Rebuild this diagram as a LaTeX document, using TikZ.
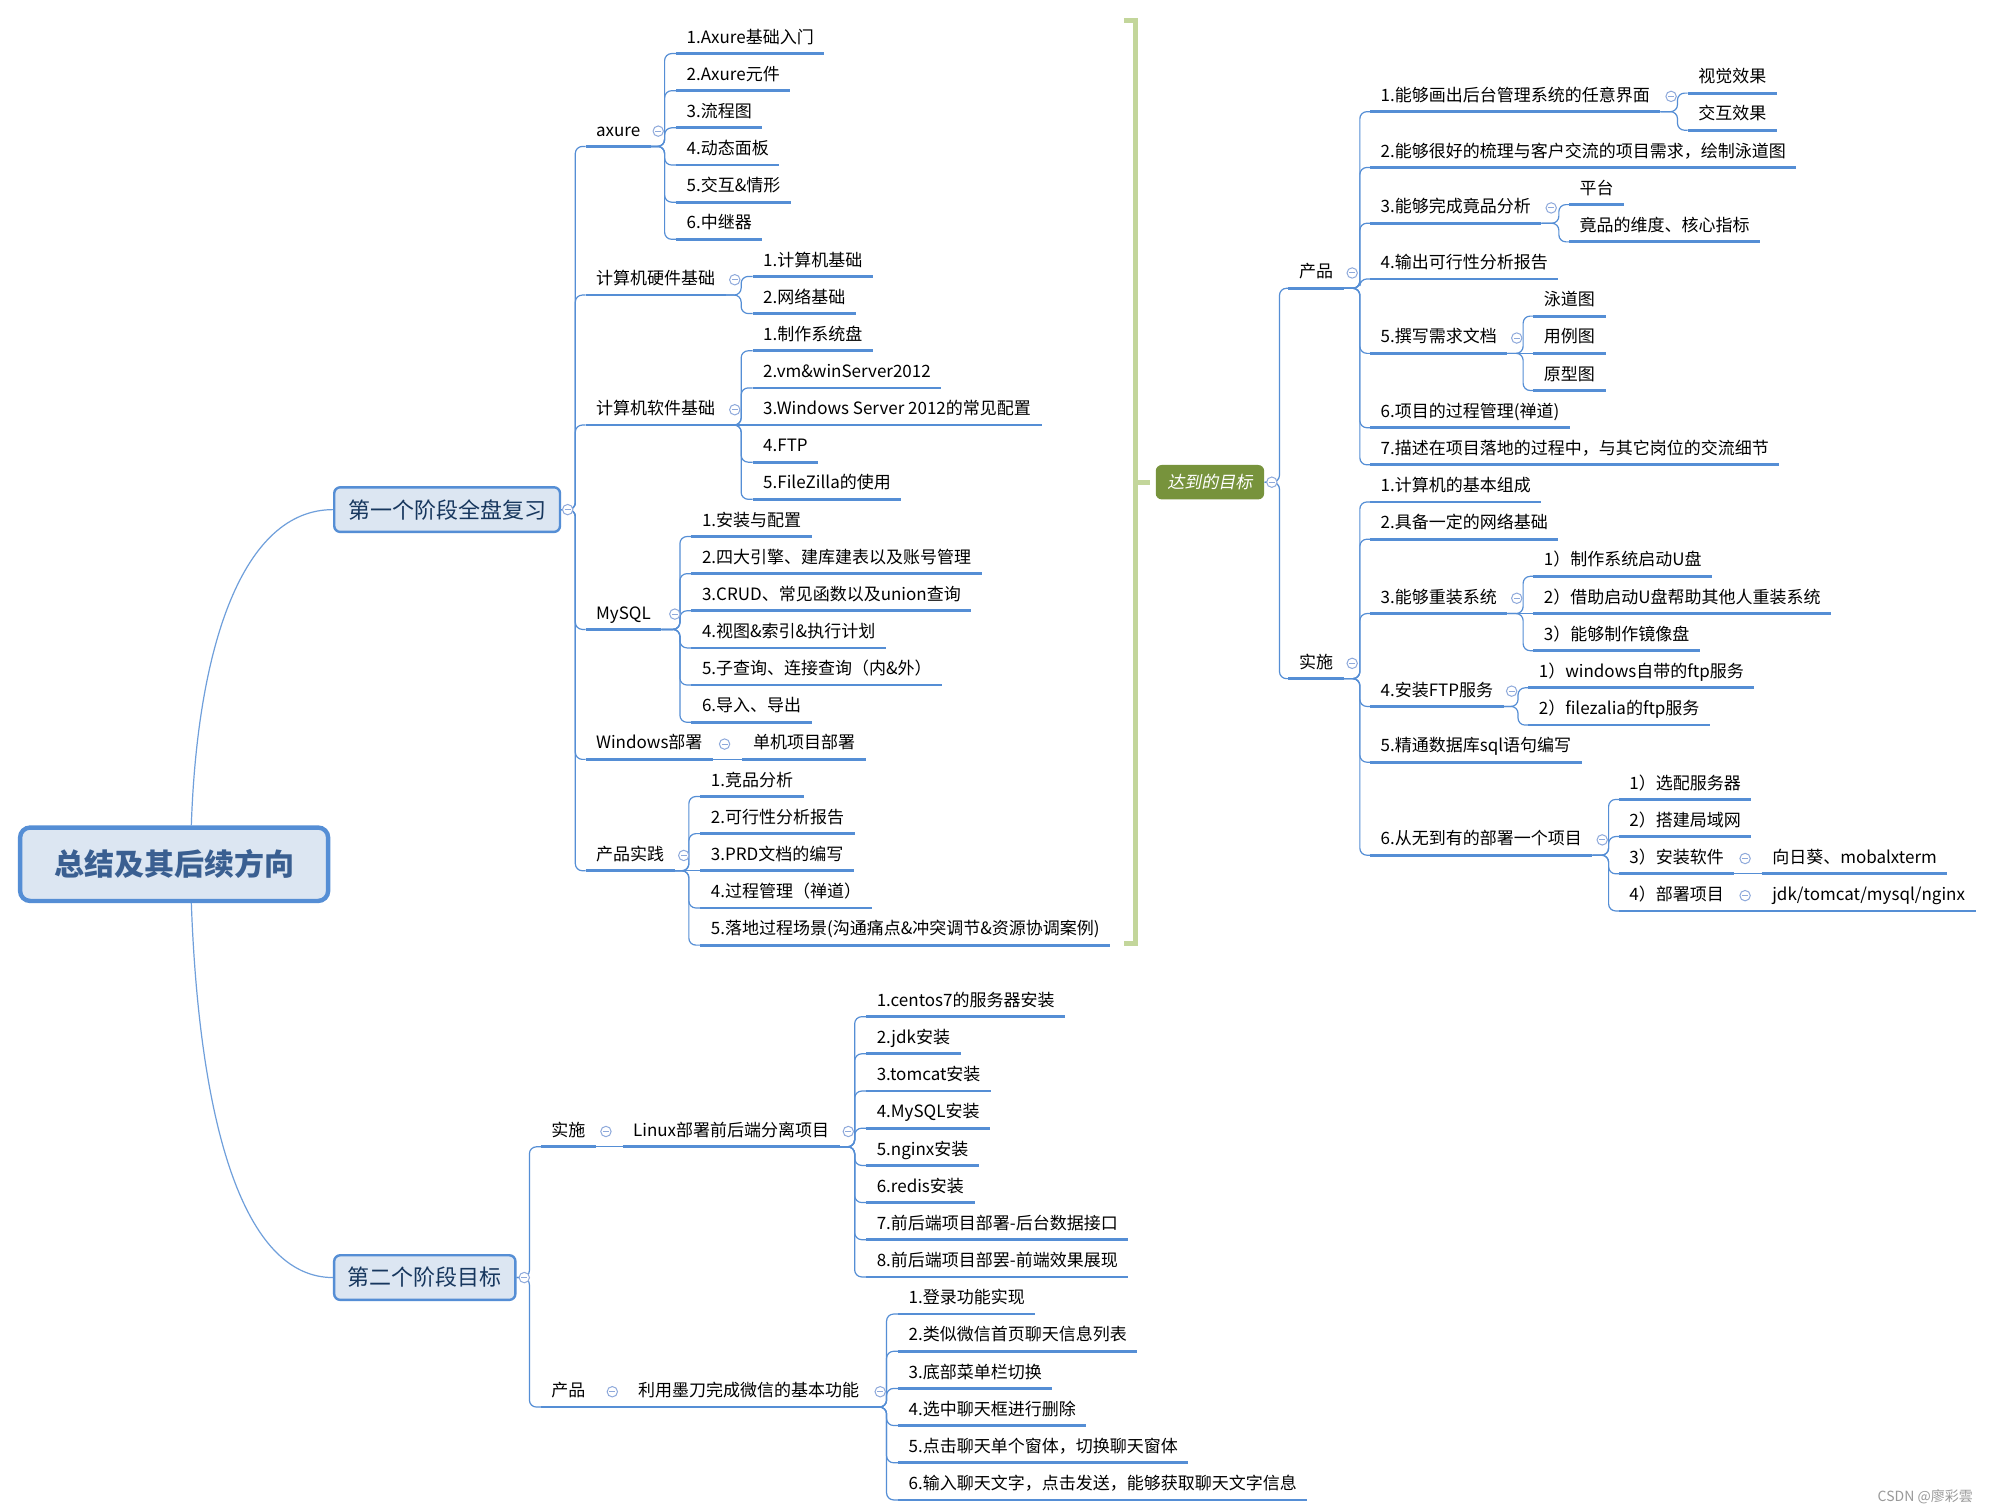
\documentclass[tikz,border=0pt]{standalone}
\usepackage{fontspec}
\setmainfont{Noto Sans CJK SC}
\newfontfamily\slantfont{Noto Sans CJK SC}[FakeSlant=0.2]
\definecolor{lineblue}{HTML}{558ED5}
\definecolor{boxfill}{HTML}{DCE6F2}
\definecolor{navy}{HTML}{17375E}
\definecolor{roottext}{HTML}{3A5F91}
\definecolor{olive}{HTML}{77933C}
\definecolor{bracketgreen}{HTML}{C3D69B}
\definecolor{circlecol}{HTML}{8EA9DB}
\definecolor{curvecol}{HTML}{6F9FDB}
\newcommand\lf[4]{\node[leaf] (#1) at ({#2-8},{#3+12}) {#4};}
\newcommand\cc[3]{\draw[conn] (#1.south east) -- (#1.south east -| #2,0) -- (#3.south west -| #2,0) -- (#3.south west);}
\newcommand\cb[3]{\draw[conn] (#1.east) -- (#1.east -| #2,0) -- (#3.south west -| #2,0) -- (#3.south west);}
\newcommand\cs[2]{\draw[conn] (#1.south east) -- (#2.south west);}
\newcommand\btn[3]{\node[cbtn] (#1) at (#2,#3) {};}
\begin{document}
\begin{tikzpicture}[x=0.6378pt,y=-0.6378pt,
  uline/.style={draw=lineblue,line width=1.4pt},
  leaf/.style={anchor=south west,inner xsep=5.1pt,inner ysep=3.4pt,text height=7pt,text depth=1.6pt,
    font=\fontsize{8.5}{10}\selectfont,text=black,
    append after command={(\tikzlastnode.south west) edge[uline] (\tikzlastnode.south east)}},
  conn/.style={draw=lineblue,line width=0.6pt,rounded corners=3.5pt},
  cbtn/.style={circle,draw=circlecol,fill=white,line width=0.5pt,minimum size=5.2pt,inner sep=0pt,
    path picture={\draw[circlecol,line width=0.5pt] ([xshift=-1.5pt]path picture bounding box.center) -- ([xshift=1.5pt]path picture bounding box.center);}},
  lvlbox/.style={rectangle,rounded corners=3pt,draw=lineblue,line width=1.2pt,fill=boxfill,
    font=\fontsize{11}{13}\selectfont,text=navy,minimum height=22.3pt,inner sep=0pt},
  rootbox/.style={rectangle,rounded corners=5pt,draw=lineblue,line width=2.2pt,fill=boxfill,
    font=\fontsize{15}{18}\selectfont\bfseries,text=roottext,minimum width=154pt,minimum height=36.7pt,inner sep=0pt},
  goalbox/.style={rectangle,rounded corners=3pt,fill=olive,text=white,font=\fontsize{8.5}{10}\selectfont\slantfont,
    minimum width=54.2pt,minimum height=17.2pt,inner sep=0pt},
  rootcurve/.style={draw=curvecol,line width=0.6pt},
  bracket/.style={draw=bracketgreen,line width=2.5pt},
]
\fill[white] (0,0) rectangle (1560,1184.5);
\useasboundingbox (0,0) rectangle (1560,1184.5);

% main boxes
\node[rootbox] (root) at (136.5,677.5) {总结及其后续方向};
\node[lvlbox,minimum width=112.9pt] (s1) at (350.5,399.5) {第一个阶段全盘复习};
\node[lvlbox,minimum width=90.6pt] (s2) at (333,1001.5) {第二个阶段目标};
\node[goalbox] (goal) at (948.5,378) {达到的目标};

\draw[rootcurve] ([xshift=8.6pt]root.north) .. controls +(3pt,90pt) and +(-45pt,0pt) .. (s1.west);
\draw[rootcurve] ([xshift=8.6pt]root.south) .. controls +(4pt,-110pt) and +(-45pt,0pt) .. (s2.west);

% summary bracket
\draw[bracket] (881,16) -- (890,16) -- (890,740) -- (881,740);
\draw[bracket] (890,378) -- ([xshift=-2.5pt]goal.west);

% ---------- stage 1 ----------
\lf{axure}{467}{102.8}{axure}
\lf{hw}{467}{219.3}{计算机硬件基础}
\lf{sw}{467}{321.2}{计算机软件基础}
\lf{mysql}{467}{481.4}{MySQL}
\lf{win}{467}{583.3}{Windows部署}
\lf{pp}{467}{670.6}{产品实践}

\lf{a1}{538}{30.0}{1.Axure基础入门}
\lf{a2}{538}{59.1}{2.Axure元件}
\lf{a3}{538}{88.2}{3.流程图}
\lf{a4}{538}{117.4}{4.动态面板}
\lf{a5}{538}{146.5}{5.交互\&情形}
\lf{a6}{538}{175.6}{6.中继器}
\lf{h1}{598}{204.7}{1.计算机基础}
\lf{h2}{598}{233.8}{2.网络基础}
\lf{w1}{598}{263.0}{1.制作系统盘}
\lf{w2}{598}{292.1}{2.vm\&winServer2012}
\lf{w3}{598}{321.2}{3.Windows Server 2012的常见配置}
\lf{w4}{598}{350.3}{4.FTP}
\lf{w5}{598}{379.4}{5.FileZilla的使用}
\lf{m1}{550}{408.6}{1.安装与配置}
\lf{m2}{550}{437.7}{2.四大引擎、建库建表以及账号管理}
\lf{m3}{550}{466.8}{3.CRUD、常见函数以及union查询}
\lf{m4}{550}{495.9}{4.视图\&索引\&执行计划}
\lf{m5}{550}{525.0}{5.子查询、连接查询（内\&外）}
\lf{m6}{550}{554.2}{6.导入、导出}
\lf{wd}{590}{583.3}{单机项目部署}
\lf{p1}{557}{612.4}{1.竞品分析}
\lf{p2}{557}{641.5}{2.可行性分析报告}
\lf{p3}{557}{670.6}{3.PRD文档的编写}
\lf{p4}{557}{699.8}{4.过程管理（禅道）}
\lf{p5}{557}{728.9}{5.落地过程场景(沟通痛点\&冲突调节\&资源协调案例)}

\foreach \c in {axure,hw,sw,mysql,win,pp} {\cb{s1}{451}{\c}}
\foreach \c in {a1,a2,a3,a4,a5,a6} {\cc{axure}{521}{\c}}
\foreach \c in {h1,h2} {\cc{hw}{581}{\c}}
\foreach \c in {w1,w2,w4,w5} {\cc{sw}{581}{\c}}
\cs{sw}{w3}
\foreach \c in {m1,m2,m3,m4,m5,m6} {\cc{mysql}{533}{\c}}
\cs{win}{wd}
\foreach \c in {p1,p2,p4,p5} {\cc{pp}{540}{\c}}
\cs{pp}{p3}

% ---------- stage 2 ----------
\lf{ss}{432}{887}{实施}
\lf{sp}{432}{1091}{产品}
\lf{lx}{496}{887}{Linux部署前后端分离项目}
\lf{md}{500}{1091}{利用墨刀完成微信的基本功能}
\lf{l1}{687}{785.0}{1.centos7的服务器安装}
\lf{l2}{687}{814.1}{2.jdk安装}
\lf{l3}{687}{843.3}{3.tomcat安装}
\lf{l4}{687}{872.4}{4.MySQL安装}
\lf{l5}{687}{901.6}{5.nginx安装}
\lf{l6}{687}{930.7}{6.redis安装}
\lf{l7}{687}{959.8}{7.前后端项目部署-后台数据接口}
\lf{l8}{687}{989.0}{8.前后端项目部罢-前端效果展现}
\lf{q1}{712}{1018.1}{1.登录功能实现}
\lf{q2}{712}{1047.3}{2.类似微信首页聊天信息列表}
\lf{q3}{712}{1076.4}{3.底部菜单栏切换}
\lf{q4}{712}{1105.5}{4.选中聊天框进行删除}
\lf{q5}{712}{1134.7}{5.点击聊天单个窗体，切换聊天窗体}
\lf{q6}{712}{1163.8}{6.输入聊天文字，点击发送，能够获取聊天文字信息}

\cb{s2}{415}{ss}
\cb{s2}{415}{sp}
\cs{ss}{lx}
\cs{sp}{md}
\foreach \c in {l1,l2,l3,l4,l5,l6,l7,l8} {\cc{lx}{670}{\c}}
\foreach \c in {q1,q2,q3,q4,q5,q6} {\cc{md}{695}{\c}}

% ---------- goals ----------
\lf{gp}{1018}{214}{产品}
\lf{gi}{1018}{520}{实施}
\lf{g1}{1082}{75.55}{1.能够画出后台管理系统的任意界面}
\lf{g2}{1082}{119.3}{2.能够很好的梳理与客户交流的项目需求，绘制泳道图}
\lf{g3}{1082}{163}{3.能够完成竟品分析}
\lf{g4}{1082}{206.7}{4.输出可行性分析报告}
\lf{g5}{1082}{265}{5.撰写需求文档}
\lf{g6}{1082}{323.3}{6.项目的过程管理(禅道)}
\lf{g7}{1082}{352.4}{7.描述在项目落地的过程中，与其它岗位的交流细节}
\lf{g1a}{1331}{61}{视觉效果}
\lf{g1b}{1331}{90.1}{交互效果}
\lf{g3a}{1238}{148.4}{平台}
\lf{g3b}{1238}{177.6}{竟品的维度、核心指标}
\lf{g5a}{1210}{235.8}{泳道图}
\lf{g5b}{1210}{265}{用例图}
\lf{g5c}{1210}{294.1}{原型图}
\lf{i1}{1082}{381.5}{1.计算机的基本组成}
\lf{i2}{1082}{410.7}{2.具备一定的网络基础}
\lf{i3}{1082}{469}{3.能够重装系统}
\lf{i4}{1082}{541.8}{4.安装FTP服务}
\lf{i5}{1082}{585.5}{5.精通数据库sql语句编写}
\lf{i6}{1082}{658.4}{6.从无到有的部署一个项目}
\lf{i3a}{1210}{439.8}{1）制作系统启动U盘}
\lf{i3b}{1210}{469}{2）借助启动U盘帮助其他人重装系统}
\lf{i3c}{1210}{498.1}{3）能够制作镜像盘}
\lf{i4a}{1206}{527.2}{1）windows自带的ftp服务}
\lf{i4b}{1206}{556.4}{2）filezalia的ftp服务}
\lf{i6a}{1277}{614.7}{1）选配服务器}
\lf{i6b}{1277}{643.8}{2）搭建局域网}
\lf{i6c}{1277}{673}{3）安装软件}
\lf{i6d}{1277}{702.1}{4）部署项目}
\lf{i6e}{1389}{673}{向日葵、mobalxterm}
\lf{i6f}{1389}{702.1}{jdk/tomcat/mysql/nginx}

\cb{goal}{1003}{gp}
\cb{goal}{1003}{gi}
\foreach \c in {g1,g2,g3,g4,g5,g6,g7} {\cc{gp}{1066}{\c}}
\foreach \c in {i1,i2,i3,i4,i5,i6} {\cc{gi}{1066}{\c}}
\cc{g1}{1315}{g1a}
\cc{g1}{1315}{g1b}
\cc{g3}{1222}{g3a}
\cc{g3}{1222}{g3b}
\cc{g5}{1194}{g5a}
\cs{g5}{g5b}
\cc{g5}{1194}{g5c}
\cc{i3}{1194}{i3a}
\cs{i3}{i3b}
\cc{i3}{1194}{i3c}
\cc{i4}{1190}{i4a}
\cc{i4}{1190}{i4b}
\foreach \c in {i6a,i6b,i6c,i6d} {\cc{i6}{1261}{\c}}
\cs{i6c}{i6e}
\cs{i6d}{i6f}

% collapse buttons
\btn{b-s1}{445}{399.5}
\btn{b-s2}{411}{1001.5}
\btn{b-goal}{997}{378}
\btn{b-axure}{516}{102.8}
\btn{b-hw}{576}{219.3}
\btn{b-sw}{576}{321.2}
\btn{b-mysql}{529}{481.4}
\btn{b-win}{568}{583.3}
\btn{b-pp}{536}{670.6}
\btn{b-ss}{475}{887}
\btn{b-lx}{665}{887}
\btn{b-sp}{480}{1091}
\btn{b-md}{690}{1091}
\btn{b-gp}{1060}{214}
\btn{b-gi}{1060}{520}
\btn{b-g1}{1310}{75.55}
\btn{b-g3}{1216}{163}
\btn{b-g5}{1189}{265}
\btn{b-i3}{1189}{469}
\btn{b-i4}{1185}{541.8}
\btn{b-i6}{1256}{658.4}
\btn{b-i6c}{1368}{673}
\btn{b-i6d}{1368}{702.1}

\node[anchor=east,font=\fontsize{7}{8}\selectfont,text=black!40] (wm) at (1552,1173) {CSDN @廖彩雲};
\end{tikzpicture}
\end{document}
